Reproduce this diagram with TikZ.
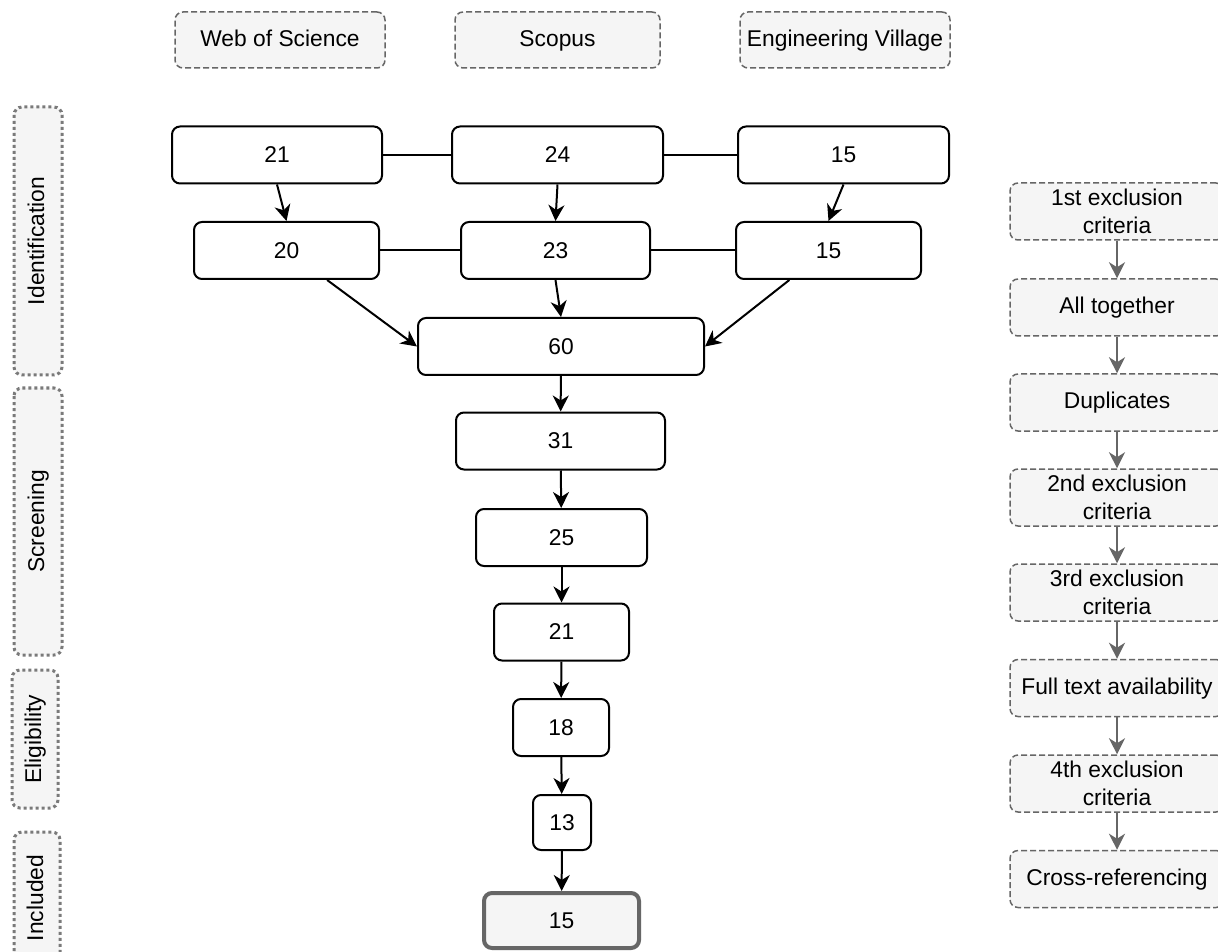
\documentclass[tikz,border=0pt]{standalone}
\usepackage{fontspec}
\setmainfont{Liberation Sans}
\usetikzlibrary{arrows.meta}
\definecolor{boxgray}{HTML}{F5F5F5}
\definecolor{linegray}{HTML}{666666}
\definecolor{dotgray}{HTML}{7A7A7A}
\tikzset{
  count/.style={draw,line width=1pt,rounded corners=4pt,fill=white,minimum height=28.5pt,inner sep=0pt},
  source/.style={draw=linegray,dash pattern=on 3pt off 1.5pt,line width=0.75pt,rounded corners=4pt,fill=boxgray,minimum height=28pt,inner sep=0pt},
  oneline/.style={text height=0.72em,text depth=0.1em},
  phase/.style={draw=dotgray,dash pattern=on 1.5pt off 1.5pt,line width=1.5pt,rounded corners=4pt,fill=boxgray,rotate=90,inner sep=0pt,oneline},
  final/.style={draw=linegray,line width=2pt,rounded corners=4pt,fill=boxgray,minimum height=27.5pt,inner sep=0pt},
  flow/.style={-{Stealth[length=8pt,width=8pt,inset=2.5pt]},line width=1pt},
  greyflow/.style={-{Stealth[length=8pt,width=8pt,inset=2.5pt]},line width=1pt,draw=linegray}
}
\begin{document}
\begin{tikzpicture}[x=0.5pt,y=-0.5pt,font=\fontsize{11.4}{14}\selectfont]
\clip (0,0) rectangle (1218,951);
\fill[white] (0,0) rectangle (1218,951);

% Databases
\node[source,oneline,minimum width=105pt] (wos) at (280,40) {Web of Science};
\node[source,oneline,minimum width=102.5pt] (scopus) at (557.5,40) {Scopus};
\node[source,oneline,minimum width=105pt] (ev) at (845,40) {Engineering Village};

% Phases
\node[phase,minimum width=134pt,minimum height=24pt] (ident) at (38,241) {Identification};
\node[phase,minimum width=133.5pt,minimum height=24pt] (screen) at (38,521.5) {Screening};
\node[phase,minimum width=69pt,minimum height=23pt] (elig) at (35,739) {Eligibility};
\node[phase,minimum width=66pt,minimum height=23pt] (incl) at (37,898) {Included};

% Counts per database
\node[count,minimum width=105pt] (wosA) at (277,155) {21};
\node[count,minimum width=105.5pt] (scoA) at (557.5,155) {24};
\node[count,minimum width=105.5pt] (evA) at (843.5,155) {15};
\node[count,minimum width=92.5pt] (wosB) at (286.5,250.5) {20};
\node[count,minimum width=94.5pt] (scoB) at (555.5,250.5) {23};
\node[count,minimum width=92.5pt] (evB) at (828.5,250.5) {15};

% Merged counts
\node[count,minimum width=143pt] (all) at (561,346.5) {60};
\node[count,minimum width=104.5pt] (dup) at (560.5,441) {31};
\node[count,minimum width=85.5pt] (excl2) at (561.5,537.5) {25};
\node[count,minimum width=67.5pt] (excl3) at (561.5,632) {21};
\node[count,minimum width=48pt] (full) at (561,727.5) {18};
\node[count,minimum width=29pt,minimum height=27.5pt] (excl4) at (562,822.5) {13};
\node[final,minimum width=77.5pt] (cross) at (561.5,920.5) {15};

% Steps
\node[source,minimum width=107pt,minimum height=28.5pt,align=center] (c1) at (1117,211.5) {1st exclusion\\criteria};
\node[source,oneline,minimum width=107pt,minimum height=28.5pt] (c2) at (1117,307.5) {All together};
\node[source,oneline,minimum width=107pt,minimum height=28.5pt] (c3) at (1117,402.5) {Duplicates};
\node[source,minimum width=107pt,minimum height=28.5pt,align=center] (c4) at (1117,497.5) {2nd exclusion\\criteria};
\node[source,minimum width=107pt,minimum height=28.5pt,align=center] (c5) at (1117,592.5) {3rd exclusion\\criteria};
\node[source,oneline,minimum width=107pt,minimum height=28.5pt] (c6) at (1117,688) {Full text availability};
\node[source,minimum width=107pt,minimum height=28.5pt,align=center] (c7) at (1117,783.5) {4th exclusion\\criteria};
\node[source,oneline,minimum width=107pt,minimum height=28.5pt] (c8) at (1117,879) {Cross-referencing};

% Links
\draw[line width=1pt] (wosA) -- (scoA);
\draw[line width=1pt] (scoA) -- (evA);
\draw[line width=1pt] (wosB) -- (scoB);
\draw[line width=1pt] (scoB) -- (evB);

\draw[flow] (wosA.south) -- (wosB.north);
\draw[flow] (scoA.south) -- (scoB.north);
\draw[flow] (evA.south) -- (evB.north);
\draw[flow] (wosB.-36.6) -- (all.west);
\draw[flow] (scoB.south) -- (all.north);
\draw[flow] (evB.217) -- (all.east);
\draw[flow] (all) -- (dup);
\draw[flow] (dup) -- (excl2);
\draw[flow] (excl2) -- (excl3);
\draw[flow] (excl3) -- (full);
\draw[flow] (full) -- (excl4);
\draw[flow] (excl4) -- (cross);

\draw[greyflow] (c1) -- (c2);
\draw[greyflow] (c2) -- (c3);
\draw[greyflow] (c3) -- (c4);
\draw[greyflow] (c4) -- (c5);
\draw[greyflow] (c5) -- (c6);
\draw[greyflow] (c6) -- (c7);
\draw[greyflow] (c7) -- (c8);
\end{tikzpicture}
\end{document}
